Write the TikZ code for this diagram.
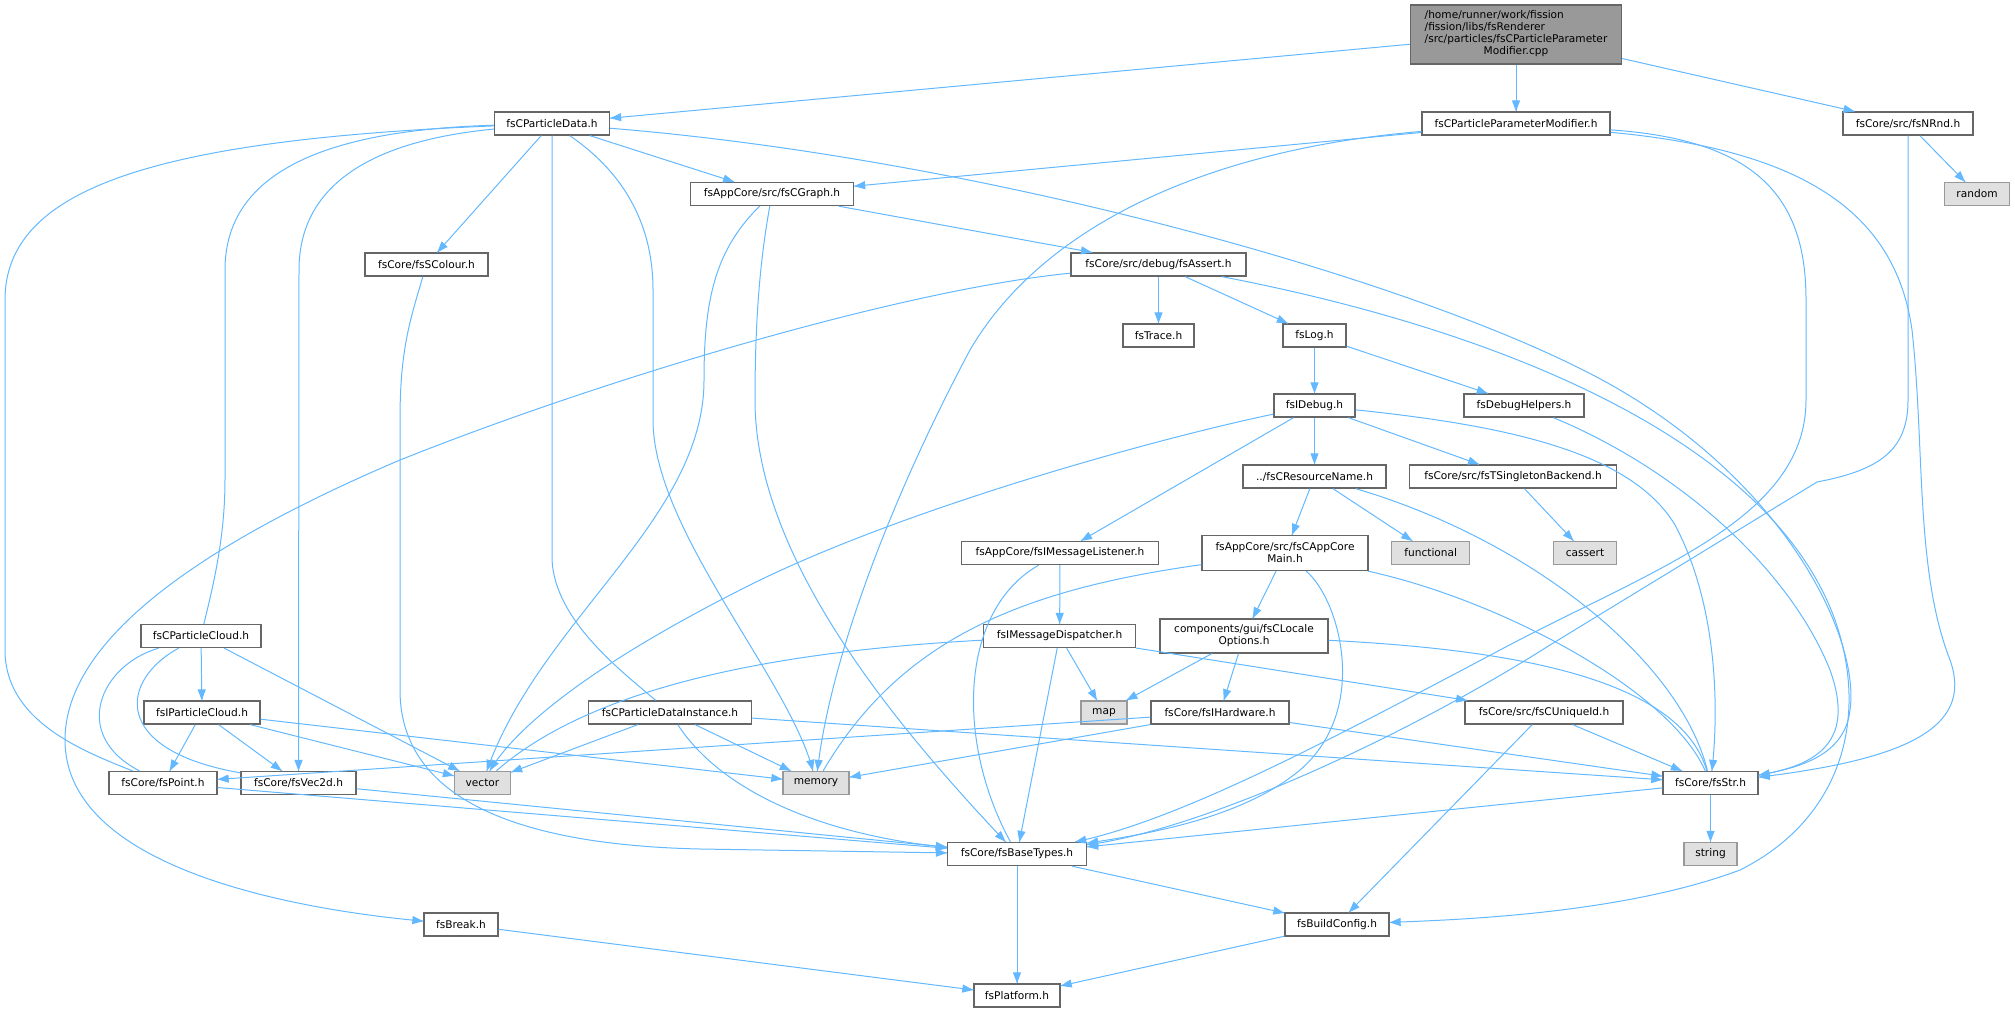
\documentclass[tikz,border=0pt]{standalone}
\usepackage{fontspec}
\setmainfont{DejaVu Sans}
\usetikzlibrary{arrows.meta,decorations.markings}
\definecolor{edgeblue}{HTML}{63B8FF}
\definecolor{boxline}{HTML}{666666}
\definecolor{sysline}{HTML}{999999}
\definecolor{sysfill}{HTML}{E0E0E0}
\definecolor{rootfill}{HTML}{999999}
\tikzset{dep/.style = {draw=edgeblue, line width=1pt, decoration={markings, mark=at position 1 with {\arrow{Triangle[length=11pt,width=8pt,color=edgeblue]}}}, postaction={decorate}}}
\tikzset{hdr/.style = {draw=boxline, fill=white, line width=1.3pt, inner sep=0, minimum height=23, font=\fontsize{10.6}{12}\selectfont}}
\tikzset{sys/.style = {hdr, draw=sysline, fill=sysfill}}
\tikzset{rootbox/.style = {hdr, fill=rootfill}}

\begin{document}
\begin{tikzpicture}[x=1pt, y=-1pt]
      \useasboundingbox (0,0) rectangle (2015,1012);
      \node[rootbox, minimum width=211, minimum height=59] (root) at (1516,34.5) {\begin{tabular}{@{}l@{}}/home/runner/work/fission\\ /fission/libs/fsRenderer\\ /src/particles/fsCParticleParameter\\ \multicolumn{1}{@{}c@{}}{Modifier.cpp}\end{tabular}};
      \node[hdr, minimum width=115] (pdata) at (552,123.5) {fsCParticleData.h};
      \node[hdr, minimum width=188] (pmod) at (1516,123.5) {fsCParticleParameterModifier.h};
      \node[hdr, minimum width=130] (nrnd) at (1908,123.5) {fsCore/src/fsNRnd.h};
      \node[hdr, minimum width=163] (cgraph) at (772,194) {fsAppCore/src/fsCGraph.h};
      \node[sys, minimum width=65] (rnd) at (1977,194) {random};
      \node[hdr, minimum width=123] (scolour) at (426.5,264.5) {fsCore/fsSColour.h};
      \node[hdr, minimum width=175] (assrt) at (1158.5,264.5) {fsCore/src/debug/fsAssert.h};
      \node[hdr, minimum width=71] (trace) at (1158.5,335.5) {fsTrace.h};
      \node[hdr, minimum width=63] (logh) at (1314.5,335.5) {fsLog.h};
      \node[hdr, minimum width=81] (idebug) at (1314.5,405.5) {fsIDebug.h};
      \node[hdr, minimum width=120] (dhelp) at (1524,405.5) {fsDebugHelpers.h};
      \node[hdr, minimum width=143] (resname) at (1314.5,476.5) {../fsCResourceName.h};
      \node[hdr, minimum width=207] (singleton) at (1513,476.5) {fsCore/src/fsTSingletonBackend.h};
      \node[hdr, minimum width=197] (msglist) at (1060,553) {fsAppCore/fsIMessageListener.h};
      \node[hdr, minimum width=166, minimum height=35, align=center] (appmain) at (1285,553) {fsAppCore/src/fsCAppCore\\Main.h};
      \node[sys, minimum width=78] (functional) at (1430.7,553) {functional};
      \node[sys, minimum width=63] (cassert) at (1585,553) {cassert};
      \node[hdr, minimum width=120] (pcloud) at (201,636) {fsCParticleCloud.h};
      \node[hdr, minimum width=152] (msgdisp) at (1059.6,636) {fsIMessageDispatcher.h};
      \node[hdr, minimum width=168, minimum height=34, align=center] (locale) at (1244,636) {components/gui/fsCLocale\\Options.h};
      \node[hdr, minimum width=116] (picloud) at (202,712.5) {fsIParticleCloud.h};
      \node[hdr, minimum width=163] (pdi) at (670,712.5) {fsCParticleDataInstance.h};
      \node[sys, minimum width=46] (map) at (1104,712.5) {map};
      \node[hdr, minimum width=138] (hw) at (1220,712.5) {fsCore/fsIHardware.h};
      \node[hdr, minimum width=158] (uid) at (1544,712.5) {fsCore/src/fsCUniqueId.h};
      \node[hdr, minimum width=108] (point) at (163,783) {fsCore/fsPoint.h};
      \node[hdr, minimum width=115] (vec) at (298.5,783) {fsCore/fsVec2d.h};
      \node[sys, minimum width=56] (vector) at (482.5,783) {vector};
      \node[sys, minimum width=66] (memory) at (816,783) {memory};
      \node[hdr, minimum width=95] (str) at (1710.5,783) {fsCore/fsStr.h};
      \node[hdr, minimum width=139] (base) at (1017,854) {fsCore/fsBaseTypes.h};
      \node[sys, minimum width=53] (string) at (1710.5,854) {string};
      \node[hdr, minimum width=74] (brk) at (461,924.5) {fsBreak.h};
      \node[hdr, minimum width=104] (bconf) at (1337,924.5) {fsBuildConfig.h};
      \node[hdr, minimum width=86] (platform) at (1017,995.5) {fsPlatform.h};

      \draw[dep] (root) -- (pdata);
      \draw[dep] (root) -- (pmod);
      \draw[dep] (root) -- (nrnd);

      \draw[dep] (pdata) .. controls (150,140) and (5,190) .. (5,300) -- (5,650) .. controls (5,720) and (80,750) .. (point);
      \draw[dep] (pdata) .. controls (330,130) and (225,170) .. (225,270) -- (225,480) .. controls (225,540) and (212,590) .. (pcloud);
      \draw[dep] (pdata) .. controls (380,140) and (299,180) .. (299,270) -- (vec);
      \draw[dep] (pdata) -- (scolour);
      \draw[dep] (pdata) -- (552,560) .. controls (555,620) and (620,670) .. (pdi);
      \draw[dep] (pdata) .. controls (620,170) and (653,220) .. (653,290) -- (653,420) .. controls (653,530) and (790,680) .. (memory);
      \draw[dep] (pdata) -- (cgraph);
      \draw[dep] (pdata) .. controls (1000,160) and (1450,290) .. (1620,390) .. controls (1790,490) and (1860,640) .. (1850,710) .. controls (1845,755) and (1800,768) .. (str);

      \draw[dep] (pmod) -- (cgraph);
      \draw[dep] (pmod) .. controls (1200,150) and (1040,230) .. (970,350) .. controls (890,500) and (830,660) .. (memory);
      \draw[dep] (pmod) .. controls (1760,140) and (1806,200) .. (1806,300) -- (1806,400) .. controls (1806,520) and (1650,570) .. (1500,650) .. controls (1330,740) and (1180,820) .. (base);
      \draw[dep] (pmod) .. controls (1800,150) and (1895,210) .. (1912,330) .. controls (1925,450) and (1915,570) .. (1950,660) .. controls (1975,730) and (1900,760) .. (str);

      \draw[dep] (nrnd) -- (rnd);
      \draw[dep] (nrnd) -- (1908,400) .. controls (1908,450) and (1880,470) .. (1817,482) -- (1550,645) .. controls (1400,740) and (1200,830) .. (base);

      \draw[dep] (cgraph) -- (assrt);
      \draw[dep] (cgraph) .. controls (715,250) and (704,300) .. (704,380) .. controls (704,520) and (540,620) .. (vector);
      \draw[dep] (cgraph) .. controls (760,260) and (755,320) .. (755,400) .. controls (755,560) and (900,730) .. (base);

      \draw[dep] (scolour) .. controls (410,320) and (400,350) .. (400,420) -- (400,690) .. controls (400,800) and (520,845) .. (700,849) -- (base);

      \draw[dep] (assrt) -- (trace);
      \draw[dep] (assrt) -- (logh);
      \draw[dep] (assrt) .. controls (900,290) and (600,380) .. (400,460) .. controls (200,545) and (65,640) .. (65,740) .. controls (65,870) and (300,910) .. (brk);
      \draw[dep] (assrt) .. controls (1500,330) and (1770,440) .. (1835,620) .. controls (1870,720) and (1840,820) .. (1740,870) .. controls (1620,915) and (1450,920) .. (bconf);

      \draw[dep] (logh) -- (idebug);
      \draw[dep] (logh) -- (dhelp);

      \draw[dep] (idebug) -- (resname);
      \draw[dep] (idebug) -- (singleton);
      \draw[dep] (idebug) -- (msglist);
      \draw[dep] (idebug) .. controls (1150,440) and (900,510) .. (750,585) .. controls (610,655) and (520,720) .. (vector);
      \draw[dep] (idebug) .. controls (1500,425) and (1630,450) .. (1675,525) .. controls (1715,600) and (1720,700) .. (str);

      \draw[dep] (dhelp) .. controls (1680,470) and (1790,570) .. (1830,670) .. controls (1855,740) and (1820,765) .. (str);

      \draw[dep] (resname) -- (appmain);
      \draw[dep] (resname) -- (functional);
      \draw[dep] (resname) .. controls (1530,540) and (1680,660) .. (str);

      \draw[dep] (singleton) -- (cassert);

      \draw[dep] (msglist) -- (msgdisp);
      \draw[dep] (msglist) .. controls (960,610) and (955,740) .. (base);

      \draw[dep] (appmain) -- (locale);
      \draw[dep] (appmain) .. controls (1020,590) and (900,640) .. (memory);
      \draw[dep] (appmain) .. controls (1340,600) and (1370,710) .. (1300,770) .. controls (1240,820) and (1140,835) .. (base);
      \draw[dep] (appmain) .. controls (1500,600) and (1670,690) .. (str);

      \draw[dep] (pcloud) -- (picloud);
      \draw[dep] (pcloud) .. controls (100,665) and (70,735) .. (point);
      \draw[dep] (pcloud) .. controls (120,680) and (110,750) .. (vec);
      \draw[dep] (pcloud) -- (vector);

      \draw[dep] (picloud) -- (point);
      \draw[dep] (picloud) -- (vec);
      \draw[dep] (picloud) -- (vector);
      \draw[dep] (picloud) -- (memory);

      \draw[dep] (pdi) -- (vector);
      \draw[dep] (pdi) -- (memory);
      \draw[dep] (pdi) .. controls (720,790) and (820,835) .. (base);
      \draw[dep] (pdi) -- (str);

      \draw[dep] (msgdisp) -- (map);
      \draw[dep] (msgdisp) .. controls (800,650) and (600,680) .. (vector);
      \draw[dep] (msgdisp) -- (base);
      \draw[dep] (msgdisp) -- (uid);

      \draw[dep] (locale) -- (map);
      \draw[dep] (locale) -- (hw);
      \draw[dep] (locale) .. controls (1520,650) and (1680,680) .. (str);

      \draw[dep] (hw) -- (point);
      \draw[dep] (hw) -- (memory);
      \draw[dep] (hw) -- (str);

      \draw[dep] (uid) -- (bconf);
      \draw[dep] (uid) -- (str);

      \draw[dep] (point) -- (base);
      \draw[dep] (vec) -- (base);

      \draw[dep] (str) -- (string);
      \draw[dep] (str) -- (base);

      \draw[dep] (base) -- (platform);
      \draw[dep] (base) -- (bconf);
      \draw[dep] (brk) -- (platform);
      \draw[dep] (bconf) -- (platform);
\end{tikzpicture}
\end{document}
